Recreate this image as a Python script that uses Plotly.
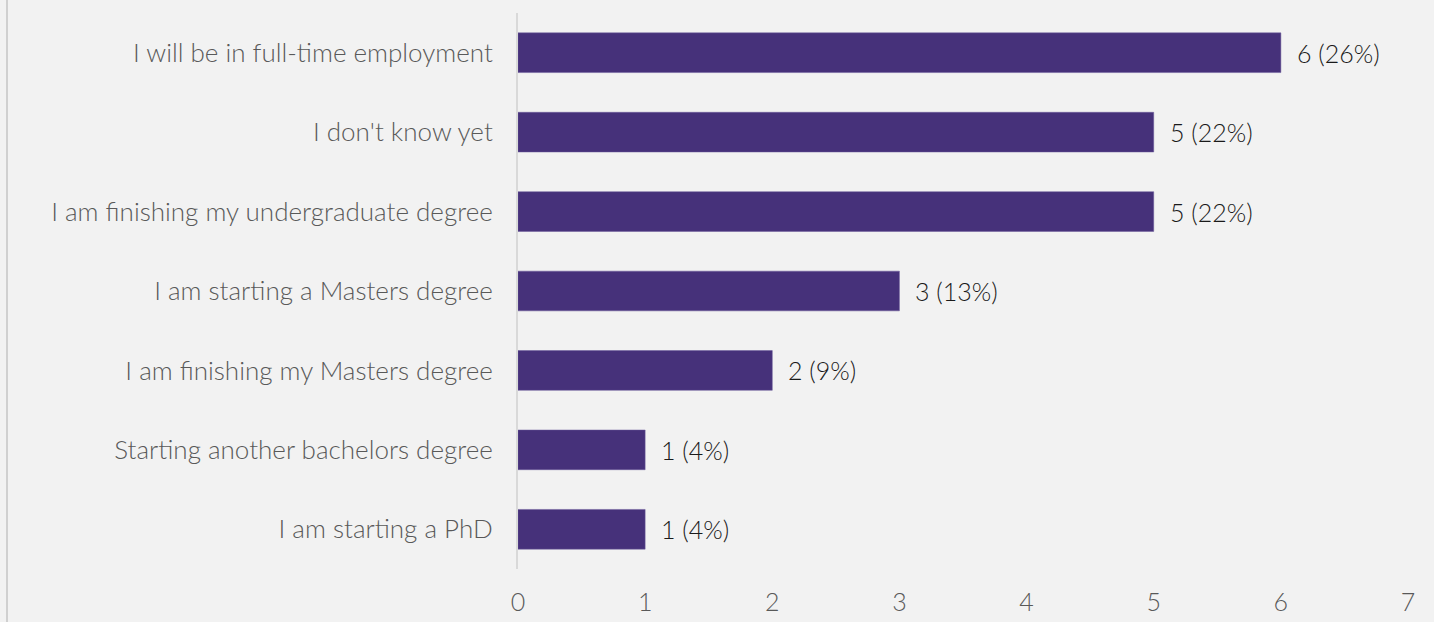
import plotly.graph_objects as go

categories = [
    "I will be in full-time employment",
    "I don't know yet",
    "I am finishing my undergraduate degree",
    "I am starting a Masters degree",
    "I am finishing my Masters degree",
    "Starting another bachelors degree",
    "I am starting a PhD",
]
counts = [6, 5, 5, 3, 2, 1, 1]
percents = [26, 22, 22, 13, 9, 4, 4]
labels = [f"{c} ({p}%)" for c, p in zip(counts, percents)]

FONT = "Lato"
SIZE = 25
fig = go.Figure()
fig.add_trace(go.Bar(
    x=counts, y=categories, orientation="h",
    marker=dict(color="#46317a", line=dict(color="#6a5a9a", width=0.5)),
    width=0.5, hoverinfo="skip",
))
for c, cat, lab in zip(counts, categories, labels):
    fig.add_annotation(x=c, y=cat, text=lab, showarrow=False, xanchor="left",
                       xshift=14, font=dict(family=FONT, size=SIZE, color="#1a1a1a", weight=300))

fig.update_layout(
    width=1434, height=622,
    margin=dict(l=518, r=26, t=13, b=53),
    paper_bgcolor="#f2f2f2", plot_bgcolor="#f2f2f2",
    showlegend=False,
    font=dict(family=FONT, size=SIZE, color="#595959", weight=300),
)
fig.update_xaxes(range=[0, 7], dtick=1, showgrid=False, zeroline=False,
                 showline=False, ticks="", ticklabelstandoff=16, automargin=False,
                 tickfont=dict(family=FONT, size=SIZE, color="#595959", weight=300))
fig.update_yaxes(autorange="reversed", showgrid=False, zeroline=False,
                 showline=True, linecolor="#d9d9d9", linewidth=2, ticks="",
                 ticklabelstandoff=18, automargin=False,
                 tickfont=dict(family=FONT, size=26, color="#595959", weight=300))
fig.add_shape(type="line", xref="paper", yref="paper",
              x0=(7 - 518) / 890, x1=(7 - 518) / 890, y0=-1, y1=2,
              line=dict(color="#d0d0d0", width=2))
fig.write_html("out.html")
